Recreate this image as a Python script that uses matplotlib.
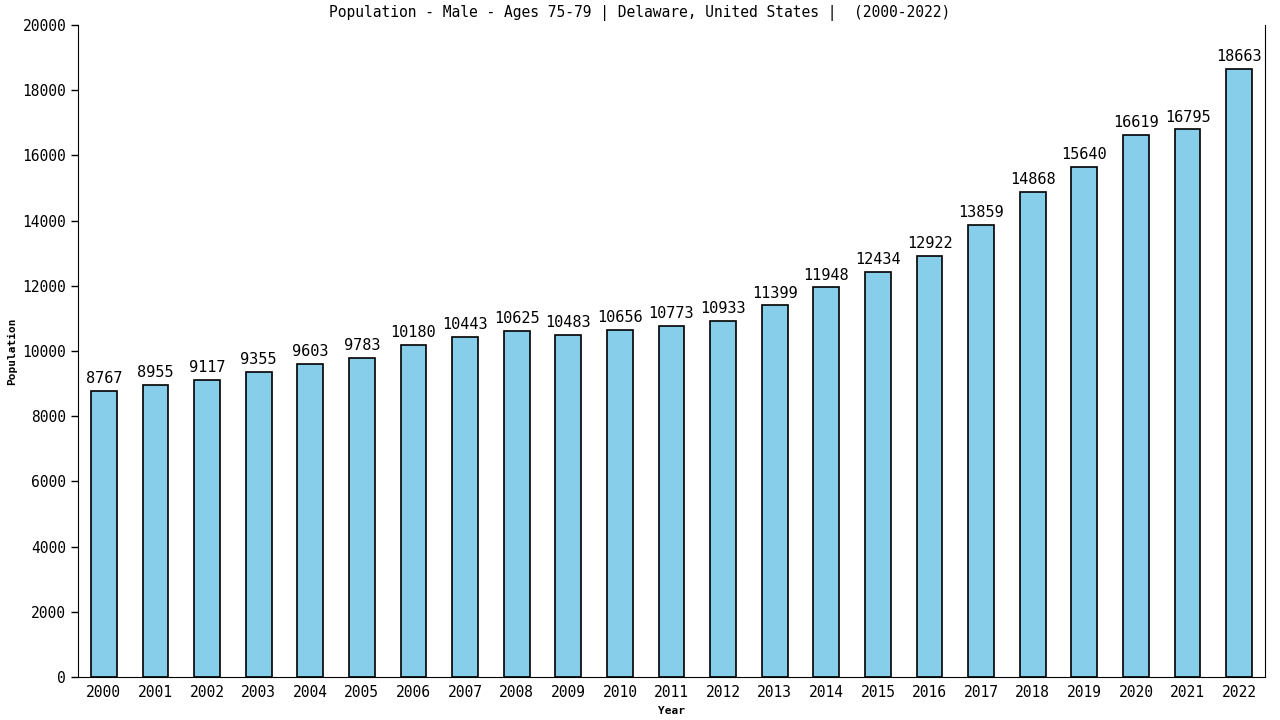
import matplotlib
matplotlib.use("Agg")
import matplotlib.pyplot as plt

years = list(range(2000, 2023))
values = [8767, 8955, 9117, 9355, 9603, 9783, 10180, 10443, 10625, 10483, 10656,
          10773, 10933, 11399, 11948, 12434, 12922, 13859, 14868, 15640, 16619, 16795, 18663]
yticks = list(range(0, 20001, 2000))

plt.rcParams['font.family'] = ['DejaVu Sans Mono']
fig = plt.figure(figsize=(12.8, 7.2), dpi=100)
ax = fig.add_axes([78/1280, 43/720, (1265-78)/1280, (677-25)/720])
x = list(range(len(years)))
ax.bar(x, values, width=0.5, color='#87CEEB', edgecolor='black', linewidth=1.2)
for xi, v in zip(x, values):
    ax.text(xi, v + 150, str(v), ha='center', va='bottom', fontsize=11)
ax.set_xlim(-0.5, len(years) - 0.5)
ax.set_ylim(0, 20000)
ax.set_yticks(yticks)
ax.set_yticklabels([str(t) for t in yticks], fontsize=10.5)
ax.set_xticks(x)
ax.set_xticklabels([str(y) for y in years], fontsize=10.5)
ax.tick_params(axis='x', length=0, pad=6)
ax.tick_params(axis='y', length=5, width=1, direction='out')
ax.spines['top'].set_visible(False)
ax.set_xlabel('Year', fontsize=8, fontweight='bold', labelpad=4)
ax.set_ylabel('Population', fontsize=8, fontweight='bold', labelpad=4)
fig.text(0.5, 1 - 13/720, 'Population - Male - Ages 75-79 | Delaware, United States |  (2000-2022)',
         ha='center', va='center', fontsize=10.5)
fig.savefig('out.png', dpi=100)
